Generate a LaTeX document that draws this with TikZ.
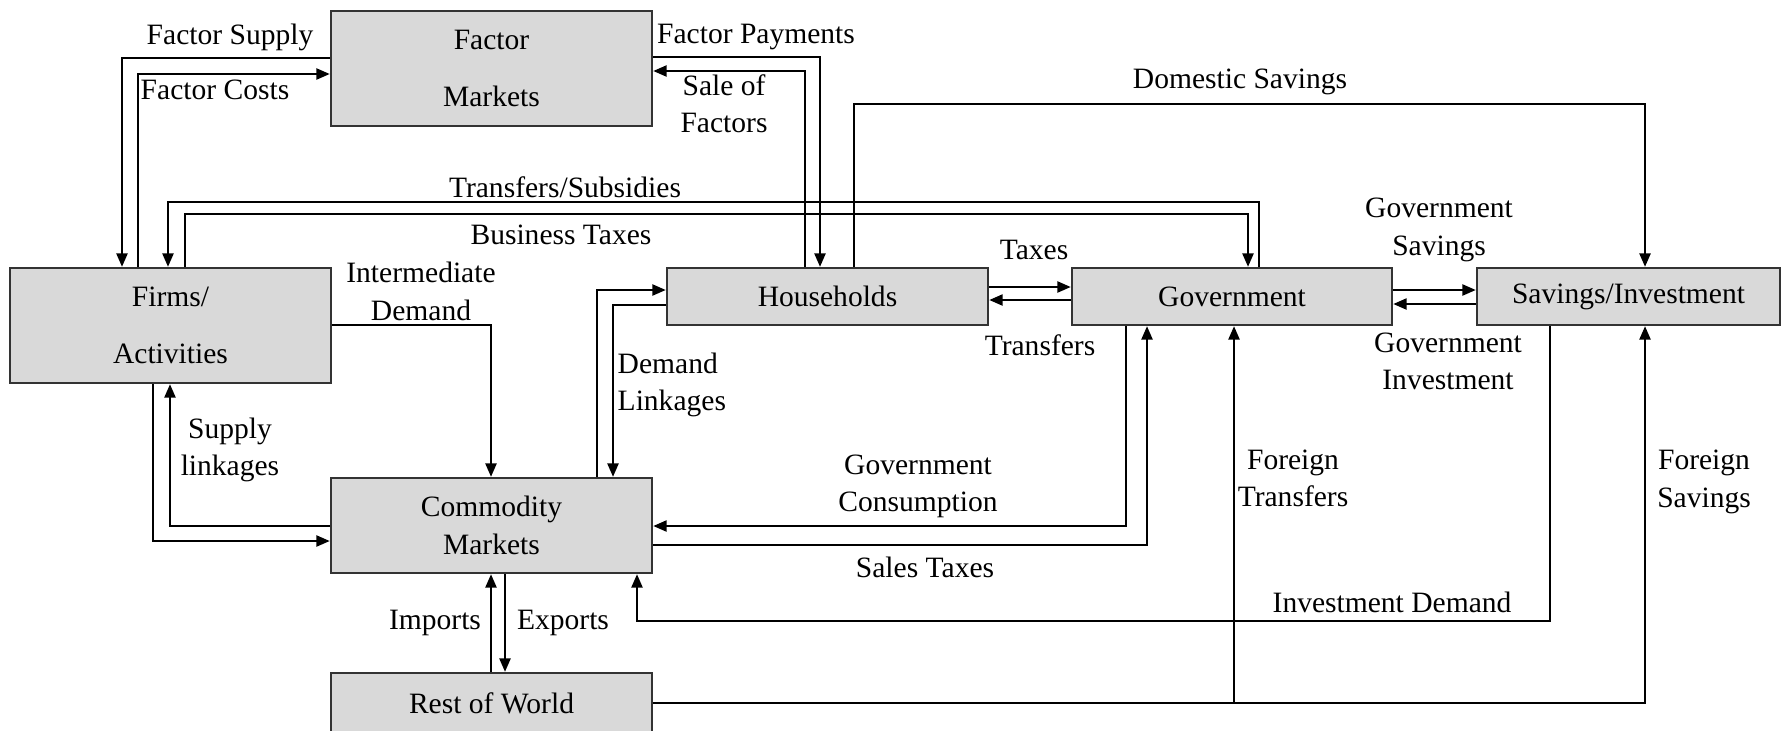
\documentclass[tikz,border=0pt]{standalone}
\usepackage{fontspec}
\setmainfont{Liberation Serif}
\usetikzlibrary{arrows.meta}
\definecolor{boxfill}{HTML}{D9D9D9}
\definecolor{boxline}{HTML}{333333}

\begin{document}
\begin{tikzpicture}[
    x=0.01cm, y=-0.01cm,
    every node/.style={font=\fontsize{8.4}{10.6}\selectfont},
    sector/.style={rectangle, draw=boxline, fill=boxfill, line width=0.7pt,
                   minimum width=3.21cm, inner sep=0pt, align=center},
    flow/.style={draw=black, line width=0.45pt, -{Triangle[length=3.8pt,width=3.2pt]}},
    lbl/.style={align=center, inner sep=0pt},
]
\clip (0,0) rectangle (1783,730);

% Sectors
\node[sector, minimum height=1.15cm] (fm) at (491.5,68.5) {Factor\\[5.8pt]Markets};
\node[sector, minimum height=1.15cm] (firms) at (170.5,325.5) {Firms/\\[5.8pt]Activities};
\node[sector, minimum height=0.57cm] (hh) at (827.5,296.5) {Households};
\node[sector, minimum height=0.57cm, minimum width=3.20cm] (gov) at (1232,296.5) {Government};
\node[sector, minimum height=0.57cm, minimum width=3.03cm] (si) at (1628.5,296.5) {Savings/Investment};
\node[sector, minimum height=0.95cm] (cm) at (491.5,525.5) {Commodity\\Markets};
\node[sector, minimum height=0.60cm] (row) at (491.5,703) {Rest of World};

% Factor market flows
\draw[flow] (fm.west |- 0,58) -| (firms.north -| 122,0);
\draw[flow] (firms.north -| 138,0) |- (fm.west |- 0,74);
\draw[flow] (fm.east |- 0,57) -| (hh.north -| 820,0);
\draw[flow] (hh.north -| 805,0) |- (fm.east |- 0,71);
\node[lbl] (lsupply) at (230,37) {Factor Supply};
\node[lbl] (lcosts) at (215,90) {Factor Costs};
\node[lbl] (lpay) at (756,37) {Factor Payments};
\node[lbl] (lsale) at (724,103.5) {Sale of\\Factors};

% Government and firms
\draw[flow] (gov.north -| 1259,0) |- (168,202) -- (firms.north -| 168,0);
\draw[flow] (firms.north -| 185,0) |- (1248,214) -- (gov.north -| 1248,0);
\node[lbl] (lsubs) at (565,187) {Transfers/Subsidies};
\node[lbl] (lbtax) at (561,235) {Business Taxes};

% Firms and commodity markets
\draw[flow] (firms.east |- 0,325) -| (cm.north -| 491,0);
\draw[flow] (cm.west |- 0,526) -| (firms.south -| 170,0);
\draw[flow] (firms.south -| 153,0) |- (cm.west |- 0,541);
\node[lbl] (linter) at (421,291.5) {Intermediate\\Demand};
\node[lbl] (lsupl) at (230,450) {Supply\\linkages};

% Households and commodity markets
\draw[flow] (cm.north -| 597,0) |- (hh.west |- 0,290);
\draw[flow] (hh.west |- 0,305) -| (cm.north -| 613,0);
\node[lbl, align=left, anchor=west] (ldem) at (617,385) {Demand\\Linkages};

% Savings
\draw[flow] (hh.north -| 854,0) |- (1645,104) -- (si.north -| 1645,0);
\node[lbl] (ldom) at (1240,82) {Domestic Savings};

% Households, government, savings
\draw[flow] (hh.east |- 0,287) -- (gov.west |- 0,287);
\draw[flow] (gov.west |- 0,300) -- (hh.east |- 0,300);
\draw[flow] (gov.east |- 0,290) -- (si.west |- 0,290);
\draw[flow] (si.west |- 0,304) -- (gov.east |- 0,304);
\node[lbl] (ltax) at (1034,250) {Taxes};
\node[lbl] (ltrans) at (1040,345) {Transfers};
\node[lbl] (lgsav) at (1439,230) {Government\\Savings};
\node[lbl] (lginv) at (1448,361) {Government\\Investment};

% Government and commodity markets
\draw[flow] (gov.south -| 1126,0) |- (cm.east |- 0,526);
\draw[flow] (cm.east |- 0,545) -| (gov.south -| 1147,0);
\node[lbl] (lgcons) at (918,486) {Government\\Consumption};
\node[lbl] (lstax) at (925,567) {Sales Taxes};

% Rest of world
\draw[flow] (row.north -| 491,0) -- (cm.south -| 491,0);
\draw[flow] (cm.south -| 505,0) -- (row.north -| 505,0);
\node[lbl] (limp) at (435,623) {Imports};
\node[lbl] (lexp) at (563,623) {Exports};
\draw[flow] (row.east |- 0,703) -| (gov.south -| 1234,0);
\draw[flow] (row.east |- 0,703) -| (si.south -| 1645,0);
\node[lbl] (lftr) at (1293,478) {Foreign\\Transfers};
\node[lbl] (lfsav) at (1704,482) {Foreign\\Savings};

% Investment demand
\draw[flow] (si.south -| 1550,0) |- (637,621) -- (cm.south -| 637,0);
\node[lbl] (linv) at (1392,602) {Investment Demand};

\end{tikzpicture}
\end{document}
